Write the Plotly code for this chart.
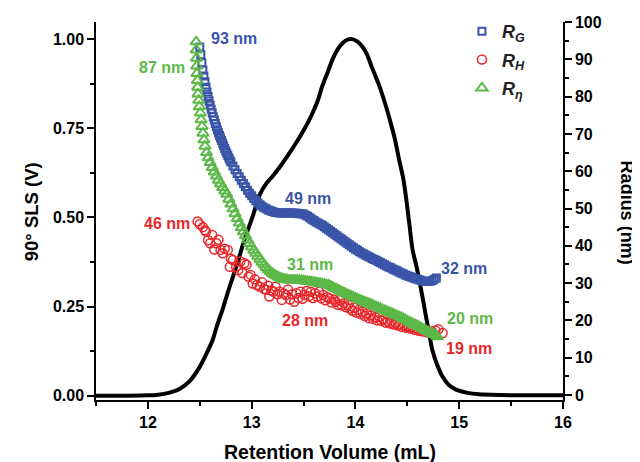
import plotly.graph_objects as go

# ---------------- data ----------------
sls_x = [11.50, 11.80, 12.00, 12.10, 12.20, 12.30, 12.40, 12.50, 12.56, 12.625, 12.67, 12.72, 12.77,
         12.82, 12.87, 12.91, 12.96, 13.01, 13.08, 13.14, 13.20, 13.28, 13.37, 13.43, 13.49, 13.54,
         13.59, 13.64, 13.68, 13.73, 13.78, 13.83, 13.88, 13.93, 13.97, 14.02, 14.07, 14.11, 14.16, 14.23,
         14.28, 14.33, 14.38, 14.42, 14.46, 14.49, 14.52, 14.55, 14.59, 14.62, 14.65, 14.68, 14.71,
         14.74, 14.79, 14.84, 14.90, 14.97, 15.08, 15.19, 15.40, 15.60, 16.00]
sls_v = [0.0, 0.0, 0.001, 0.003, 0.008, 0.018, 0.040, 0.081, 0.115, 0.157, 0.20, 0.242, 0.29,
         0.334, 0.378, 0.419, 0.462, 0.503, 0.565, 0.595, 0.615, 0.645, 0.683, 0.71, 0.739, 0.765,
         0.795, 0.83, 0.868, 0.905, 0.944, 0.972, 0.99, 0.999, 1.0, 0.993, 0.978, 0.958, 0.92, 0.869,
         0.825, 0.775, 0.72, 0.663, 0.61, 0.55, 0.48, 0.41, 0.36, 0.317, 0.27, 0.222, 0.175,
         0.129, 0.085, 0.053, 0.03, 0.017, 0.008, 0.004, 0.002, 0.001, 0.001]

rg_x = [12.50, 12.51, 12.52, 12.53, 12.54, 12.55, 12.56, 12.57, 12.58, 12.59, 12.60, 12.61, 12.62,
        12.63, 12.64, 12.65, 12.66, 12.67, 12.68, 12.69, 12.70, 12.71, 12.72, 12.73, 12.74, 12.75,
        12.76, 12.77, 12.78, 12.79, 12.80, 12.82, 12.84, 12.86, 12.88, 12.90, 12.92, 12.94, 12.96,
        12.98, 13.00, 13.02, 13.04, 13.06, 13.08, 13.10, 13.12, 13.14, 13.16, 13.18, 13.20, 13.22,
        13.24, 13.26, 13.28, 13.30, 13.32, 13.34, 13.36, 13.38, 13.40, 13.42, 13.44, 13.46, 13.48,
        13.50, 13.52, 13.54, 13.56, 13.58, 13.60, 13.62, 13.64, 13.66, 13.68, 13.70, 13.72, 13.74,
        13.76, 13.78, 13.80, 13.82, 13.84, 13.86, 13.88, 13.90, 13.92, 13.94, 13.96, 13.98, 14.00,
        14.02, 14.04, 14.06, 14.08, 14.10, 14.12, 14.14, 14.16, 14.18, 14.20, 14.22, 14.24, 14.26,
        14.28, 14.30, 14.32, 14.34, 14.36, 14.38, 14.40, 14.42, 14.44, 14.46, 14.48, 14.50, 14.52,
        14.54, 14.56, 14.58, 14.60, 14.62, 14.64, 14.66, 14.68, 14.70, 14.72, 14.74, 14.76, 14.78]
rg_r = [93.3, 91.2, 89.1, 87.1, 85.5, 84.0, 82.5, 81.2, 80.0, 78.8, 77.7, 76.6, 75.6,
        74.6, 73.7, 72.8, 71.9, 71.1, 70.3, 69.6, 68.9, 68.2, 67.5, 66.8, 66.1, 65.4,
        64.8, 64.2, 63.6, 63.0, 62.5, 61.4, 60.4, 59.4, 58.5, 57.6, 56.7, 55.8, 54.9,
        54.1, 53.4, 52.7, 52.1, 51.5, 51.0, 50.6, 50.2, 49.9, 49.6, 49.4, 49.2, 49.0,
        48.9, 48.8, 48.8, 48.8, 48.8, 48.8, 48.8, 48.8, 48.8, 48.7, 48.7, 48.6, 48.6,
        48.5, 48.2, 47.9, 47.5, 47.1, 46.8, 46.4, 46.1, 45.8, 45.5, 45.1, 44.7, 44.3,
        43.9, 43.5, 43.1, 42.7, 42.3, 41.9, 41.5, 41.1, 40.7, 40.3, 39.9, 39.5, 39.1,
        38.8, 38.4, 38.1, 37.8, 37.5, 37.2, 36.9, 36.6, 36.3, 36.1, 35.8, 35.5, 35.2,
        34.9, 34.6, 34.3, 34.1, 33.8, 33.5, 33.3, 33.0, 32.7, 32.5, 32.2, 32.0, 31.8,
        31.6, 31.4, 31.2, 31.0, 30.8, 30.6, 30.5, 30.4, 30.4, 30.5, 30.7, 31.0, 31.4]

rh_x = [12.48, 12.50, 12.53, 12.55, 12.56, 12.58, 12.60, 12.62, 12.64, 12.66, 12.68, 12.70, 12.72,
        12.74, 12.77, 12.79, 12.80, 12.82, 12.85, 12.87, 12.89, 12.91, 12.93, 12.95, 12.97, 12.99,
        13.01, 13.03, 13.05, 13.08, 13.10, 13.12, 13.14, 13.16, 13.17, 13.19, 13.21, 13.23, 13.25,
        13.27, 13.29, 13.31, 13.33, 13.35, 13.37, 13.39, 13.41, 13.43, 13.45, 13.47, 13.49, 13.51,
        13.53, 13.55, 13.57, 13.59, 13.61, 13.63, 13.65, 13.67, 13.69, 13.71, 13.73, 13.75, 13.77,
        13.79, 13.81, 13.83, 13.85, 13.87, 13.89, 13.91, 13.93, 13.95, 13.97, 13.99, 14.01, 14.03,
        14.05, 14.07, 14.09, 14.11, 14.13, 14.15, 14.17, 14.19, 14.21, 14.23, 14.25, 14.27, 14.29,
        14.31, 14.33, 14.35, 14.37, 14.39, 14.41, 14.43, 14.45, 14.47, 14.49, 14.51, 14.53, 14.55,
        14.57, 14.59, 14.61, 14.63, 14.65, 14.67, 14.69, 14.71, 14.74, 14.77, 14.80, 14.84]
rh_r = [46.5, 45.8, 45.0, 44.2, 43.8, 41.5, 40.7, 42.9, 39.0, 40.7, 41.6, 38.9, 38.0,
        39.2, 38.9, 34.4, 36.5, 36.2, 34.4, 33.5, 35.8, 32.7, 35.3, 34.9, 31.7, 32.2,
        29.9, 31.0, 29.5, 29.0, 30.2, 28.4, 28.2, 29.3, 26.4, 28.0, 27.7, 29.0, 27.0,
        27.7, 25.5, 27.2, 26.8, 28.3, 25.6, 27.0, 25.0, 27.3, 26.0, 27.7, 25.8, 26.8,
        27.9, 26.5, 27.7, 26.0, 27.3, 26.4, 27.7, 25.9, 26.8, 25.4, 26.2, 25.9, 24.8,
        25.6, 25.0, 24.2, 25.5, 24.0, 24.6, 23.5, 24.1, 23.2, 22.6, 23.4, 22.1, 22.8,
        21.7, 22.3, 21.2, 21.8, 20.6, 21.3, 20.4, 20.9, 20.0, 21.0, 19.9, 20.3, 19.4,
        19.8, 19.2, 19.7, 18.9, 19.3, 18.6, 18.9, 18.2, 18.7, 18.0, 18.4, 17.8, 18.2,
        17.5, 17.9, 17.2, 17.6, 17.0, 17.4, 16.8, 17.2, 16.9, 17.3, 17.6, 16.6]

reta_x = [12.465, 12.467, 12.469, 12.471, 12.473, 12.476, 12.479, 12.483, 12.490, 12.496, 12.505,
          12.513, 12.522, 12.530, 12.540, 12.550, 12.565, 12.580, 12.600, 12.620, 12.640, 12.660,
          12.680, 12.700, 12.720, 12.740, 12.760, 12.78, 12.80, 12.82, 12.84, 12.86, 12.88, 12.90,
          12.92, 12.94, 12.96, 12.98, 13.00, 13.02, 13.04, 13.06, 13.08, 13.10, 13.12, 13.14, 13.16,
          13.18, 13.20, 13.22, 13.24, 13.26, 13.28, 13.30, 13.32, 13.34, 13.36, 13.38, 13.40, 13.42,
          13.44, 13.46, 13.48, 13.50, 13.52, 13.54, 13.56, 13.58, 13.60, 13.62, 13.64, 13.66, 13.68,
          13.70, 13.72, 13.74, 13.76, 13.78, 13.80, 13.82, 13.84, 13.86, 13.88, 13.90, 13.92, 13.94,
          13.96, 13.98, 14.00, 14.02, 14.04, 14.06, 14.08, 14.10, 14.12, 14.14, 14.16, 14.18, 14.20,
          14.22, 14.24, 14.26, 14.28, 14.30, 14.32, 14.34, 14.36, 14.38, 14.40, 14.42, 14.44, 14.46,
          14.48, 14.50, 14.52, 14.54, 14.56, 14.58, 14.60, 14.62, 14.64, 14.66, 14.68, 14.70, 14.72,
          14.74, 14.76, 14.78, 14.79]
reta_r = [94.7, 92.5, 90.3, 88.2, 86.2, 84.3, 82.5, 80.7, 79.0, 77.3, 75.6,
          73.8, 72.0, 70.2, 68.4, 66.7, 65.0, 63.6, 62.3, 61.0, 59.8, 58.7,
          57.6, 56.6, 55.6, 54.7, 53.8, 52.5, 51.2, 49.9, 48.6, 47.3, 46.1, 44.9,
          43.8, 42.7, 41.6, 40.6, 39.7, 38.8, 38.0, 37.2, 36.4, 35.6, 34.9, 34.2, 33.6,
          33.1, 32.6, 32.2, 31.9, 31.6, 31.3, 31.1, 31.0, 30.9, 30.8, 30.8, 30.8, 30.8,
          30.8, 30.7, 30.7, 30.6, 30.5, 30.4, 30.4, 30.3, 30.2, 30.1, 30.0, 29.9, 29.8,
          29.7, 29.6, 29.5, 29.2, 28.9, 28.6, 28.4, 28.1, 27.8, 27.5, 27.3, 27.0, 26.8,
          26.5, 26.3, 26.0, 25.8, 25.5, 25.3, 25.0, 24.8, 24.6, 24.4, 24.2, 23.9, 23.7,
          23.4, 23.2, 22.9, 22.7, 22.5, 22.2, 22.0, 21.8, 21.5, 21.3, 21.0, 20.8, 20.5,
          20.2, 19.9, 19.6, 19.3, 19.0, 18.8, 18.5, 18.2, 17.9, 17.6, 17.3, 17.0, 16.8,
          16.5, 16.2, 15.9, 15.6]

x_ticks = [12, 13, 14, 15, 16]
left_ticks = [0.0, 0.25, 0.5, 0.75, 1.0]
right_ticks = [0, 10, 20, 30, 40, 50, 60, 70, 80, 90, 100]

label_text = ["93 nm", "87 nm", "49 nm", "46 nm", "31 nm", "28 nm", "32 nm", "20 nm", "19 nm"]
label_x = [12.83, 12.14, 13.54, 12.18, 13.56, 13.51, 15.05, 15.10, 15.09]
label_r = [95.7, 87.9, 52.8, 46.1, 35.1, 20.1, 34.0, 20.4, 12.6]
label_c = ["blue", "green", "blue", "red", "green", "red", "blue", "green", "red"]

COL = {"blue": "#3a55a8", "red": "#e8272b", "green": "#5cb848"}
FONT = "Arial, Liberation Sans, sans-serif"

fig = go.Figure()
fig.add_trace(go.Scatter(x=sls_x, y=sls_v, mode="lines",
                         line=dict(color="black", width=4, shape="spline", smoothing=0.6),
                         showlegend=False, yaxis="y"))
fig.add_trace(go.Scatter(x=rg_x, y=rg_r, mode="markers", yaxis="y2", name="<i>R<sub>G</sub></i>", legendgroup="a",
                         marker=dict(symbol="square-open", size=7, color=COL["blue"],
                                     line=dict(width=2.0, color=COL["blue"]))))
fig.add_trace(go.Scatter(x=rh_x, y=rh_r, mode="markers", yaxis="y2", name="<i>R<sub>H</sub></i>", legendgroup="b",
                         marker=dict(symbol="circle-open", size=9, color=COL["red"],
                                     line=dict(width=1.5, color=COL["red"]))))
fig.add_trace(go.Scatter(x=reta_x, y=reta_r, mode="markers", yaxis="y2", name="<i>R<sub>η</sub></i>", legendgroup="c",
                         marker=dict(symbol="triangle-up-open", size=10, color=COL["green"],
                                     line=dict(width=2.0, color=COL["green"]))))

annotations = []
for t, x, r, c in zip(label_text, label_x, label_r, label_c):
    annotations.append(dict(text=t, x=x, y=r, xref="x", yref="y2", showarrow=False,
                            xanchor="center", yanchor="middle",
                            font=dict(family=FONT, size=16, color=COL[c], weight="bold")))
annotations.append(dict(text="90° SLS (V)", x=-0.139, y=0.497, xref="paper", yref="paper", textangle=-90,
                        xanchor="center", yanchor="middle", showarrow=False,
                        font=dict(family=FONT, size=18.5, color="black", weight="bold")))
annotations.append(dict(text="Radius (nm)", x=1.136, y=0.497, xref="paper", yref="paper", textangle=90,
                        xanchor="center", yanchor="middle", showarrow=False,
                        font=dict(family=FONT, size=18, color="black", weight="bold")))
annotations.append(dict(text="Retention Volume (mL)", x=0.5, y=-0.1376, xref="paper", yref="paper",
                        xanchor="center", yanchor="middle", showarrow=False,
                        font=dict(family=FONT, size=19.5, color="black", weight="bold")))

axis_common = dict(showline=True, linecolor="black", linewidth=1.5, ticks="outside", ticklen=7, tickwidth=1.5,
                   tickcolor="black", showgrid=False, zeroline=False,
                   tickfont=dict(family=FONT, size=16, color="black", weight="bold"))
minor_common = dict(ticks="outside", ticklen=4, tickwidth=1.5, tickcolor="black")

# the page body adds an 8 px offset; the figure is sized so the plot area lands where the reference has it
fig.update_layout(
    width=632, height=454,
    margin=dict(l=88, r=77, t=14, b=62, autoexpand=False),
    plot_bgcolor="white", paper_bgcolor="white",
    xaxis=dict(range=[11.5, 16], tickvals=x_ticks, minor=dict(dtick=0.5, tick0=11.5, **minor_common), **axis_common),
    yaxis=dict(range=[-0.012, 1.048], tickvals=left_ticks, tickformat=".2f",
               minor=dict(dtick=0.125, tick0=0, **minor_common), **axis_common),
    yaxis2=dict(range=[-1.34, 100], tickvals=right_ticks, overlaying="y", side="right",
                minor=dict(dtick=5, tick0=0, **minor_common), **axis_common),
    legend=dict(x=0.7836, y=1.024, xanchor="left", yanchor="top", bgcolor="rgba(0,0,0,0)", tracegroupgap=2,
                font=dict(family=FONT, size=18, color="#222", weight="bold"), itemwidth=30),
    annotations=annotations,
)

fig.write_html("out.html")
